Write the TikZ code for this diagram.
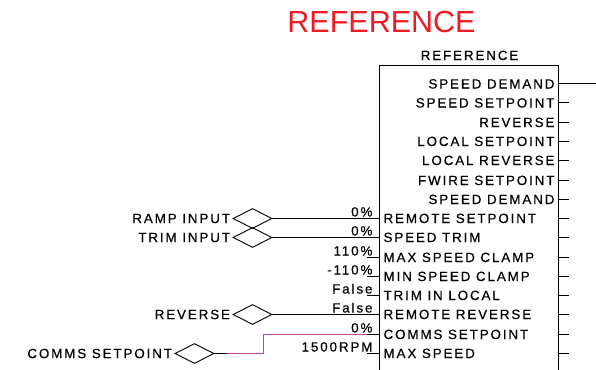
\documentclass[tikz,border=0pt]{standalone}
\usepackage{fontspec}
\setmainfont{Liberation Sans}[LetterSpace=14,FakeBold=0.4]
\newfontfamily\titlefont{Liberation Sans}
\usetikzlibrary{shapes.geometric}
\definecolor{titlered}{RGB}{237,28,36}
\definecolor{commspink}{RGB}{190,70,168}
\tikzset{
	pinlabel/.style={font=\fontsize{13.4}{15}\selectfont,inner sep=0pt},
	connector/.style={draw,diamond,minimum width=39pt,minimum height=20pt,inner sep=0pt,line width=0.9pt},
}
\begin{document}
\begin{tikzpicture}[x=1pt,y=-1pt,line width=1.1pt,every node/.style={pinlabel}]
	\useasboundingbox (0,0) rectangle (596,369);
	\node[titlered,font=\titlefont\fontsize{30.5}{34}\selectfont,anchor=base] (title) at (381.5,33) {REFERENCE};
	\node[anchor=base] (blkname) at (469.5,60) {REFERENCE};
	\node[draw,line width=1.1pt,anchor=north west,minimum width=179pt,minimum height=320pt] (ref) at (378.5,64.5) {};
	% outputs
	\node[anchor=base east] (out0) at (555,88.5) {SPEED DEMAND};
	\node[anchor=base east] (out1) at (555,107.5) {SPEED SETPOINT};
	\node[anchor=base east] (out2) at (555,127) {REVERSE};
	\node[anchor=base east] (out3) at (555,146) {LOCAL SETPOINT};
	\node[anchor=base east] (out4) at (555,165) {LOCAL REVERSE};
	\node[anchor=base east] (out5) at (555,185) {FWIRE SETPOINT};
	\node[anchor=base east] (out6) at (555,204) {SPEED DEMAND};
	\draw (557.5,83.5)--(596,83.5)
		(557.5,102.5)--(569,102.5) (557.5,122.5)--(569,122.5) (557.5,141.5)--(569,141.5)
		(557.5,160.5)--(569,160.5) (557.5,180.5)--(569,180.5) (557.5,199.5)--(569,199.5)
		(557.5,218.5)--(569,218.5) (557.5,237.5)--(569,237.5) (557.5,257.5)--(569,257.5)
		(557.5,276.5)--(569,276.5) (557.5,295.5)--(569,295.5) (557.5,314.5)--(569,314.5)
		(557.5,334.5)--(569,334.5) (557.5,353.5)--(569,353.5);
	% inputs
	\node[anchor=base west] (in7) at (383,223) {REMOTE SETPOINT};
	\node[anchor=base west] (in8) at (383,242) {SPEED TRIM};
	\node[anchor=base west] (in9) at (383,262) {MAX SPEED CLAMP};
	\node[anchor=base west] (in10) at (383,281) {MIN SPEED CLAMP};
	\node[anchor=base west] (in11) at (383,300) {TRIM IN LOCAL};
	\node[anchor=base west] (in12) at (383,319) {REMOTE REVERSE};
	\node[anchor=base west] (in13) at (383,339) {COMMS SETPOINT};
	\node[anchor=base west] (in14) at (383,358) {MAX SPEED};
	\node[anchor=base east] (val7) at (373,216.5) {0\%};
	\node[anchor=base east] (val8) at (373,235.5) {0\%};
	\node[anchor=base east] (val9) at (373,255.5) {110\%};
	\node[anchor=base east] (val10) at (373,274.5) {-110\%};
	\node[anchor=base east] (val11) at (373,293.5) {False};
	\node[anchor=base east] (val12) at (373,312.5) {False};
	\node[anchor=base east] (val13) at (373,332.5) {0\%};
	\node[anchor=base east] (val14) at (373,351.5) {1500RPM};
	\coordinate (remsp) at (367,218.5);
	\coordinate (sptrim) at (367,237.5);
	\coordinate (remrev) at (367,314.5);
	\coordinate (commssp) at (367,334.5);
	\draw (367,218.5)--(378.5,218.5) (367,237.5)--(378.5,237.5) (367,257.5)--(378.5,257.5)
		(367,276.5)--(378.5,276.5) (367,295.5)--(378.5,295.5) (367,314.5)--(378.5,314.5)
		(367,334.5)--(378.5,334.5) (367,353.5)--(378.5,353.5);
	% connectors
	\node[connector] (ramp) at (252.5,218.5) {};
	\node[connector] (trim) at (252.5,237.5) {};
	\node[connector] (rev) at (252.5,314.5) {};
	\node[connector] (comms) at (194.5,353.5) {};
	\node[anchor=east] (ramplbl) at ([xshift=-2pt]ramp.west) {RAMP INPUT};
	\node[anchor=east] (trimlbl) at ([xshift=-2pt]trim.west) {TRIM INPUT};
	\node[anchor=east] (revlbl) at ([xshift=-2pt]rev.west) {REVERSE};
	\node[anchor=east] (commslbl) at ([xshift=-2pt]comms.west) {COMMS SETPOINT};
	\draw (ramp.east)--(remsp);
	\draw (trim.east)--(sptrim);
	\draw (rev.east)--(remrev);
	\coordinate (commsout) at (227,353.5);
	\coordinate (commsjog) at (263.5,334.5);
	\draw (comms.east)--(commsout);
	\draw[commspink,line width=1.5pt] (commsout) -| (commsjog) -- (commssp);
\end{tikzpicture}
\end{document}
